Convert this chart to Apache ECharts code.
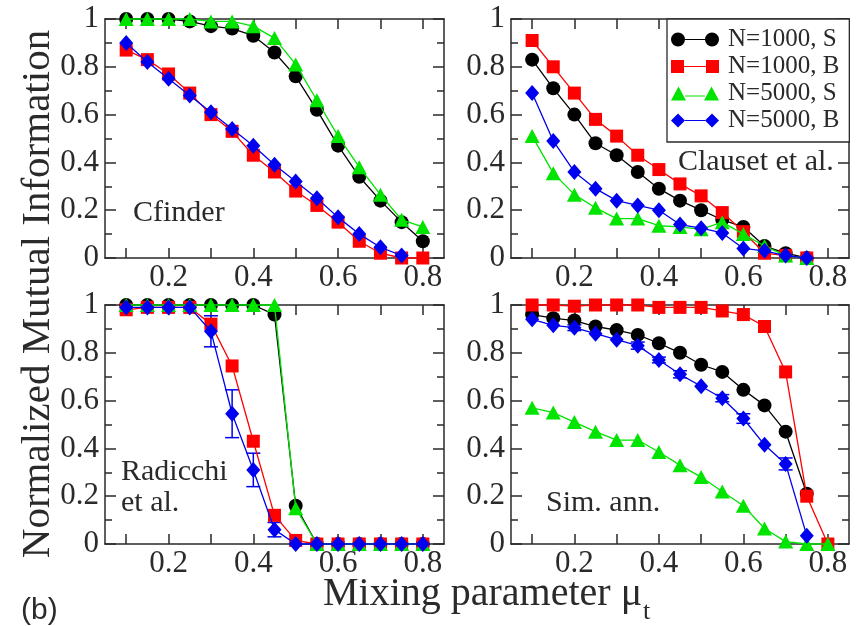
<!DOCTYPE html>
<html><head><meta charset="utf-8">
<script src="https://cdn.jsdelivr.net/npm/echarts@6/dist/echarts.min.js"></script>
<style>html,body{margin:0;padding:0;background:#fff}#c{width:861px;height:626px}</style>
</head><body><div id="c"></div>
<script>
// ---------- data ----------
const xVals = [0.1,0.15,0.2,0.25,0.3,0.35,0.4,0.45,0.5,0.55,0.6,0.65,0.7,0.75,0.8];
const xTickVals = [0.1,0.2,0.3,0.4,0.5,0.6,0.7,0.8];
const xLabelVals = [0.2,0.4,0.6,0.8];
const seriesNames = ['N=1000, S','N=1000, B','N=5000, S','N=5000, B'];
const panelNames = ['Cfinder','Clauset et al.','Radicchi\net al.','Sim. ann.'];

// Cfinder
const cfS1000 = [1.0,1.0,1.0,0.99,0.97,0.96,0.93,0.86,0.76,0.62,0.47,0.34,0.24,0.15,0.07];
const cfB1000 = [0.87,0.83,0.77,0.69,0.60,0.53,0.43,0.36,0.28,0.22,0.15,0.07,0.02,0.0,0.0];
const cfS5000 = [1.0,1.0,1.0,1.0,0.99,0.99,0.97,0.92,0.81,0.66,0.51,0.38,0.265,0.16,0.13];
const cfB5000 = [0.90,0.82,0.75,0.68,0.61,0.54,0.47,0.39,0.32,0.25,0.17,0.10,0.045,0.01,null];
// Clauset et al.
const clS1000 = [0.83,0.71,0.60,0.48,0.43,0.36,0.29,0.24,0.20,0.16,0.13,0.05,0.02,0.0];
const clB1000 = [0.91,0.80,0.69,0.58,0.51,0.43,0.37,0.31,0.26,0.19,0.11,0.02,0.01,0.0];
const clS5000 = [0.51,0.355,0.265,0.21,0.165,0.165,0.135,0.13,0.12,0.15,0.10,0.05,0.01,0.0];
const clB5000 = [0.69,0.49,0.36,0.29,0.24,0.22,0.20,0.14,0.125,0.105,0.04,0.03,0.01,0.0];
// Radicchi et al.
const raS1000 = [1,1,1,1,1,1,1,0.96,0.16,0,0,0,0,0,0];
const raB1000 = [0.98,0.99,0.99,0.99,0.92,0.745,0.43,0.12,0.015,0,0,0,0,0,0];
const raS5000 = [1,1,1,1,1,1,1,1,0.15,0,0,0,0,0,0];
const raB5000 = [0.99,0.99,0.99,0.99,0.89,0.545,0.31,0.06,0,0,0,0,0,0,0];
const raB5000Err = [0,0,0,0,0.065,0.10,0.07,0.03,0,0,0,0,0,0,0];
// Sim. ann.
const saS1000 = [0.96,0.945,0.935,0.91,0.895,0.875,0.84,0.80,0.75,0.72,0.645,0.58,0.47,0.21,null];
const saB1000 = [1.0,1.0,0.995,1.0,1.0,1.0,0.99,0.99,0.99,0.975,0.96,0.91,0.72,0.20,0.0];
const saS5000 = [0.57,0.55,0.51,0.47,0.435,0.435,0.385,0.33,0.28,0.22,0.16,0.065,0.01,0.0,0.0];
const saB5000 = [0.94,0.915,0.905,0.88,0.855,0.83,0.77,0.71,0.66,0.61,0.525,0.415,0.335,0.035,null];
const saB5000Err = [0,0,0.012,0,0,0.015,0.012,0.015,0,0.015,0.02,0,0.025,0,0];

const panels = [
  [cfS1000, cfB1000, cfS5000, cfB5000],
  [clS1000, clB1000, clS5000, clB5000],
  [raS1000, raB1000, raS5000, raB5000],
  [saS1000, saB1000, saS5000, saB5000]
];
const errPanels = [null, null, {y: raB5000, e: raB5000Err}, {y: saB5000, e: saB5000Err}];

// ---------- style ----------
const SERIF = 'Liberation Serif';
const SERIF_CSS = '"Liberation Serif", serif';
const colors = ['#000000', '#ff0000', '#00e400', '#0000f0'];
const symbols = ['circle', 'rect', 'triangle', 'diamond'];
const symbolSizes = [14, 13, [15, 14], [14, 16]];
const icons = [
  'path://M0,7 A7,7 0 1,1 14,7 A7,7 0 1,1 0,7 Z M14,6.4 L34,6.4 L34,7.6 L14,7.6 Z M34,7 A7,7 0 1,1 48,7 A7,7 0 1,1 34,7 Z',
  'path://M0,0.5 L13,0.5 L13,13.5 L0,13.5 Z M13,6.4 L35,6.4 L35,7.6 L13,7.6 Z M35,0.5 L48,0.5 L48,13.5 L35,13.5 Z',
  'path://M0,14 L7.5,0 L15,14 Z M14,8.9 L34,8.9 L34,10.1 L14,10.1 Z M33,14 L40.5,0 L48,14 Z',
  'path://M0,7 L7,0 L14,7 L7,14 Z M14,6.4 L34,6.4 L34,7.6 L14,7.6 Z M34,7 L41,0 L48,7 L41,14 Z'
];
const grids = [
  {left: 105, top: 19, width: 339, height: 239},
  {left: 511, top: 19, width: 338, height: 239},
  {left: 105, top: 305, width: 339, height: 239},
  {left: 511, top: 305, width: 338, height: 239}
];
const axisLineStyle = {color: '#2a2a2a', width: 1.5};
const tickRich = {s: {fontFamily: SERIF, fontSize: 31, color: '#2a2a2a'}};
const fmtTick = v => '{s|' + String(Math.round(v * 10) / 10) + '}';

const xAxes = [], yAxes = [], series = [];
grids.forEach((g, i) => {
  xAxes.push({
    gridIndex: i, type: 'value', min: 0.05, max: 0.85, position: 'bottom',
    axisLine: {show: true, onZero: false, lineStyle: axisLineStyle},
    axisTick: {show: true, inside: true, length: 10, customValues: xTickVals, lineStyle: axisLineStyle},
    axisLabel: {show: true, customValues: xLabelVals, margin: 4, fontFamily: SERIF, fontSize: 31, color: '#2a2a2a',
      formatter: fmtTick, rich: tickRich},
    splitLine: {show: false}
  });
  xAxes.push({
    gridIndex: i, type: 'value', min: 0.05, max: 0.85, position: 'top',
    axisLine: {show: true, onZero: false, lineStyle: axisLineStyle},
    axisTick: {show: true, inside: true, length: 10, customValues: xTickVals, lineStyle: axisLineStyle},
    axisLabel: {show: false},
    splitLine: {show: false}
  });
  yAxes.push({
    gridIndex: i, type: 'value', min: 0, max: 1, interval: 0.2, position: 'left',
    axisLine: {show: true, onZero: false, lineStyle: axisLineStyle},
    axisTick: {show: true, inside: true, length: 11, lineStyle: axisLineStyle},
    minorTick: {show: true, splitNumber: 2, length: 7, lineStyle: axisLineStyle},
    axisLabel: {show: true, margin: 6, fontFamily: SERIF, fontSize: 31, color: '#2a2a2a',
      formatter: fmtTick, rich: tickRich},
    splitLine: {show: false}, minorSplitLine: {show: false}
  });
  yAxes.push({
    gridIndex: i, type: 'value', min: 0, max: 1, interval: 0.2, position: 'right',
    axisLine: {show: true, onZero: false, lineStyle: axisLineStyle},
    axisTick: {show: true, inside: true, length: 11, lineStyle: axisLineStyle},
    minorTick: {show: true, splitNumber: 2, length: 7, lineStyle: axisLineStyle},
    axisLabel: {show: false},
    splitLine: {show: false}, minorSplitLine: {show: false}
  });

  // error bars (drawn beneath markers)
  const ep = errPanels[i];
  if (ep) {
    const errData = [];
    ep.y.forEach((y, k) => { if (y != null && ep.e[k] > 0) errData.push([xVals[k], y, ep.e[k]]); });
    series.push({
      type: 'custom', name: 'err' + i, xAxisIndex: 2 * i, yAxisIndex: 2 * i, z: 1, clip: false,
      data: errData,
      renderItem: (params, api) => {
        const x = api.value(0), y = api.value(1), e = api.value(2);
        const t = api.coord([x, y + e]), b = api.coord([x, y - e]);
        const w = 7;
        const st = {stroke: colors[3], lineWidth: 1.5};
        return {type: 'group', children: [
          {type: 'line', shape: {x1: t[0], y1: t[1], x2: b[0], y2: b[1]}, style: st},
          {type: 'line', shape: {x1: t[0] - w, y1: t[1], x2: t[0] + w, y2: t[1]}, style: st},
          {type: 'line', shape: {x1: b[0] - w, y1: b[1], x2: b[0] + w, y2: b[1]}, style: st}
        ]};
      }
    });
  }

  panels[i].forEach((ys, s) => {
    const data = [];
    ys.forEach((y, k) => { if (y != null) data.push([xVals[k], y]); });
    series.push({
      type: 'line', name: seriesNames[s], xAxisIndex: 2 * i, yAxisIndex: 2 * i,
      data: data, symbol: symbols[s], symbolSize: symbolSizes[s], showSymbol: true, clip: false,
      z: 2 + s,
      lineStyle: {color: colors[s], width: 1.3},
      itemStyle: {color: colors[s]},
      emphasis: {disabled: true}
    });
  });
});

// measure text width for subscript placement
const cv = document.createElement('canvas').getContext('2d');
cv.font = '40px ' + SERIF_CSS;
const xTitleMain = 'Mixing parameter μ';
const xTitleW = cv.measureText(xTitleMain).width;
const xTitleLeft = 323;

const graphics = [
  {type: 'text', left: 133, top: 198, z: 50, style: {text: panelNames[0], font: '30px ' + SERIF_CSS, fill: '#2a2a2a'}},
  {type: 'text', left: 678, top: 147, z: 50, style: {text: panelNames[1], font: '30px ' + SERIF_CSS, fill: '#2a2a2a'}},
  {type: 'text', left: 121, top: 457, z: 50, style: {text: panelNames[2], font: '30px ' + SERIF_CSS, fill: '#2a2a2a', lineHeight: 31}},
  {type: 'text', left: 546, top: 488, z: 50, style: {text: panelNames[3], font: '30px ' + SERIF_CSS, fill: '#2a2a2a'}},
  {type: 'text', x: 38, y: 294, rotation: Math.PI / 2, z: 50,
    style: {text: 'Normalized Mutual Information', font: '41px ' + SERIF_CSS, fill: '#2a2a2a', align: 'center', verticalAlign: 'middle'}},
  {type: 'text', x: xTitleLeft, y: 594, z: 50,
    style: {text: xTitleMain, font: '40px ' + SERIF_CSS, fill: '#2a2a2a', align: 'left', verticalAlign: 'middle'}},
  {type: 'text', x: xTitleLeft + xTitleW + 1, y: 612, z: 50,
    style: {text: 't', font: '26px ' + SERIF_CSS, fill: '#2a2a2a', align: 'left', verticalAlign: 'middle'}},
  {type: 'text', x: 21, y: 611, z: 50,
    style: {text: '(b)', font: '30px "Liberation Sans", Arial, sans-serif', fill: '#2a2a2a', align: 'left', verticalAlign: 'middle'}}
];

const chart = echarts.init(document.getElementById('c'), null, {renderer: 'canvas'});
chart.setOption({
  animation: false,
  backgroundColor: '#ffffff',
  textStyle: {fontFamily: SERIF},
  grid: grids,
  xAxis: xAxes,
  yAxis: yAxes,
  legend: {
    orient: 'vertical', left: 667, top: 19, padding: [7, 10, 8, 4], itemGap: 0,
    itemWidth: 48, itemHeight: 14, backgroundColor: '#ffffff', borderColor: '#2a2a2a', borderWidth: 1.3,
    selectedMode: false, z: 40,
    textStyle: {fontFamily: SERIF, fontSize: 25, color: '#2a2a2a', lineHeight: 27, padding: [0, 0, 0, 4]},
    data: seriesNames.map((n, k) => ({name: n, icon: icons[k], itemStyle: {color: colors[k]}}))
  },
  graphic: graphics,
  series: series
});
</script></body></html>
